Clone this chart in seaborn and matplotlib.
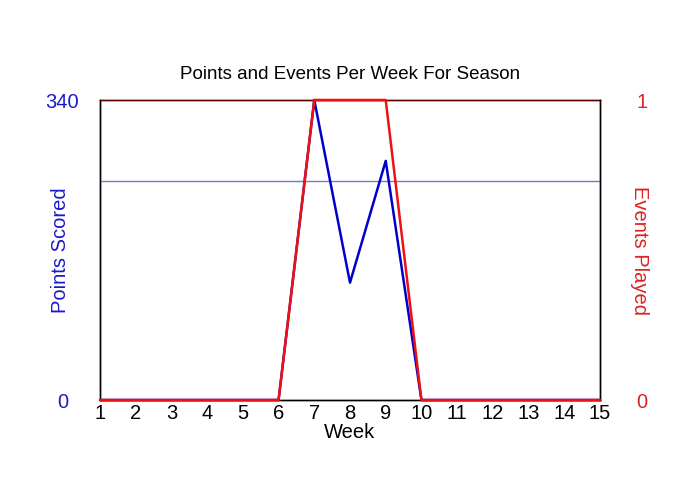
import pandas as pd
import seaborn as sns
import matplotlib.pyplot as plt

# weekly data for the season
weeks = list(range(1, 16))
points = [0, 0, 0, 0, 0, 0, 340, 133, 271, 0, 0, 0, 0, 0, 0]
events = [0, 0, 0, 0, 0, 0, 1, 1, 1, 0, 0, 0, 0, 0, 0]

df = pd.DataFrame({"Week": weeks, "Points": points, "Events": events})
played = [p for p, e in zip(points, events) if e > 0]
avg_points = sum(played) / len(played)

sns.set_style("white")
plt.rcParams["font.family"] = ["Liberation Sans", "DejaVu Sans"]
plt.rcParams["text.color"] = "black"
plt.rcParams["axes.labelcolor"] = "black"

fig = plt.figure(figsize=(7, 5), dpi=100)
ax = fig.add_axes([100 / 700, 100 / 500, 500 / 700, 300 / 500])
ax2 = ax.twinx()

# average points line
ax.axhline(avg_points, color="#7777cc", lw=1)
sns.lineplot(data=df, x="Week", y="Points", ax=ax, color="#0000cc", lw=1.8,
             clip_on=False)
sns.lineplot(data=df, x="Week", y="Events", ax=ax2, color="#ee1111", lw=1.8,
             clip_on=False)

ax.set_xlim(1, 15)
ax.set_ylim(0, 340)
ax2.set_ylim(0, 1)
ax.set_xticks(weeks)
ax.set_yticks([0, 340])
ax2.set_yticks([0, 1])

ax.tick_params(axis="x", length=0, pad=3, labelsize=14.5, colors="black")
ax.tick_params(axis="y", length=0, pad=27, labelsize=14.5, labelcolor="#1a1acc")
ax2.tick_params(axis="y", length=0, pad=30, labelsize=14.5, labelcolor="#dd2222")
for t in ax.get_yticklabels():
    t.set_horizontalalignment("center")
for t in ax2.get_yticklabels():
    t.set_horizontalalignment("center")

for a in (ax, ax2):
    for s in a.spines.values():
        s.set_color("black")
        s.set_linewidth(1)
        s.set_zorder(0.5)
    a.spines["top"].set_color("#5a0000")

ax.set_xlabel("Week", fontsize=14.5, labelpad=0, color="black")
ax.set_ylabel("Points Scored", fontsize=14.5, color="#1a1acc")
ax2.set_ylabel("Events Played", fontsize=14.5, color="#dd2222", rotation=270)
ax.yaxis.set_label_coords(-0.08, 0.5)
ax2.yaxis.set_label_coords(1.08, 0.5)
ax.yaxis.label.set_verticalalignment("center")
ax2.yaxis.label.set_verticalalignment("center")
ax.set_title("Points and Events Per Week For Season", fontsize=13.5, pad=15,
             color="black")

fig.savefig("out.png", dpi=100)
